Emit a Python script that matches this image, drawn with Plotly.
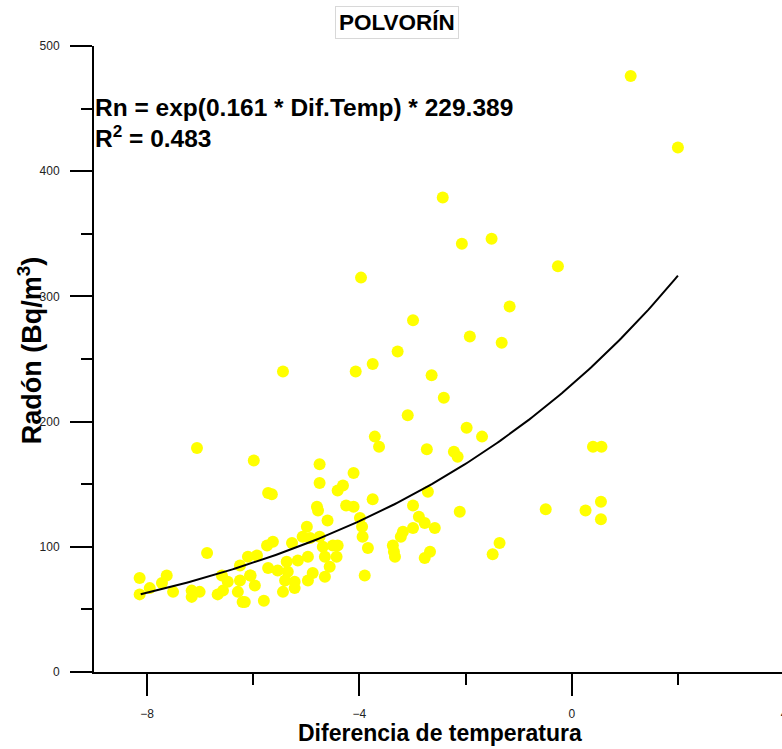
import numpy as np
import plotly.graph_objects as go

# ---- data ----
dif_temp = [
    1.11, 2.00, -0.26, -2.43, -2.07, -1.51, -3.97, -1.17, -2.99, -1.92,
    -1.32, -3.28, -3.75, -2.64, -2.41, -3.09, -1.98, -1.69, -3.71, -3.63,
    -2.73, -2.22, -2.15, -3.75, -2.71, -2.99, -2.11, -2.88, -2.77, -2.58,
    -2.99, -3.18, -3.22, -3.37, -3.33, -3.35, -2.67, -2.77, -1.36, -1.49,
    -3.84, 0.40, 0.56, -0.49, 0.26, 0.55, 0.55, -5.44, -4.07, -7.06,
    -5.99, -4.75, -4.11, -4.75, -4.31, -4.41, -5.72, -5.65, -4.80, -4.78,
    -4.25, -4.11, -4.60, -3.99, -3.95, -3.94, -4.99, -5.07, -4.93, -5.27,
    -4.75, -5.63, -5.74, -4.50, -4.41, -4.69, -4.65, -4.43, -4.56, -4.97,
    -5.16, -5.37, -6.10, -5.93, -5.72, -5.54, -5.35, -6.05, -5.40, -5.22,
    -4.97, -4.88, -4.65, -5.97, -5.44, -5.22, -6.16, -5.80, -3.90, -6.87,
    -8.14, -7.63, -7.72, -7.95, -8.14, -7.51, -7.16, -7.01, -7.16, -6.67,
    -6.57, -6.29, -6.20, -6.59, -6.48, -6.25, -6.25, -6.06,
]
radon = [
    476, 419, 324, 379, 342, 346, 315, 292, 281, 268,
    263, 256, 246, 237, 219, 205, 195, 188, 188, 180,
    178, 176, 172, 138, 144, 133, 128, 124, 119, 115,
    115, 112, 108, 101, 92, 96, 96, 91, 103, 94,
    99, 180, 180, 130, 129, 136, 122, 240, 240, 179,
    169, 166, 159, 151, 149, 145, 143, 142, 132, 129,
    133, 132, 121, 123, 116, 108, 116, 108, 107, 103,
    108, 104, 101, 101, 101, 100, 92, 92, 84, 92,
    89, 88, 92, 93, 83, 81, 80, 77, 73, 72,
    73, 79, 76, 69, 64, 67, 56, 57, 77, 95,
    75, 77, 71, 67, 62, 64, 65, 64, 60, 62,
    65, 64, 56, 77, 72, 73, 85, 77,
]

# fitted model shown on the chart: Rn = exp(b * Dif.Temp) * a
fit_b = 0.161
fit_a = 229.389
fit_x_min = -8.12
fit_x_max = 2.0

title_text = "POLVORÍN"
eq_text = "Rn = exp(0.161 * Dif.Temp) * 229.389"
r2_text = "R<sup>2</sup> = 0.483"
x_title = "Diferencia de temperatura"
y_title = "Radón (Bq/m<sup>3</sup>)"

x_ticks = [-8, -4, 0, 4]
y_ticks = [0, 100, 200, 300, 400, 500]

fx = np.linspace(fit_x_min, fit_x_max, 200)
fy = fit_a * np.exp(fit_b * fx)

FONT = "Liberation Sans, Arial, sans-serif"

fig = go.Figure()
fig.add_trace(go.Scatter(
    x=dif_temp, y=radon, mode="markers",
    marker=dict(color="#FFFF00", size=12, line=dict(width=0)),
    showlegend=False, hoverinfo="x+y",
))
fig.add_trace(go.Scatter(
    x=fx, y=fy, mode="lines",
    line=dict(color="black", width=2),
    showlegend=False, hoverinfo="skip",
))

axis_common = dict(
    showline=True, linecolor="black", linewidth=2,
    ticks="outside", ticklen=22, tickwidth=2, tickcolor="black",
    showgrid=False, zeroline=False,
    tickfont=dict(family=FONT, size=12, color="#222222"),
    ticklabelstandoff=8,
)

fig.update_layout(
    width=800, height=749,
    margin=dict(l=94, r=0, t=46, b=77),
    paper_bgcolor="white", plot_bgcolor="white",
    font=dict(family=FONT, color="black"),
    xaxis=dict(range=[-9.0, 4.3], tickvals=x_ticks,
               minor=dict(ticks="outside", ticklen=11, tickwidth=2,
                          tickcolor="black", dtick=2, tick0=0),
               **axis_common),
    yaxis=dict(range=[0, 500], tickvals=y_ticks,
               minor=dict(ticks="outside", ticklen=11, tickwidth=2,
                          tickcolor="black", dtick=50, tick0=0),
               **axis_common),
    annotations=[
        dict(text="<b>%s</b>" % title_text, xref="paper", yref="paper",
             x=0.429, y=1.0383, xanchor="center", yanchor="middle",
             showarrow=False, font=dict(family=FONT, size=22.5, color="black"),
             bordercolor="#d8d8d8", borderwidth=1, borderpad=3),
        dict(text="<b>%s</b>" % eq_text, xref="paper", yref="paper",
             x=-0.0016, y=0.901, xanchor="left", yanchor="middle",
             showarrow=False, font=dict(family=FONT, size=24.5, color="black")),
        dict(text="<b>%s</b>" % r2_text, xref="paper", yref="paper",
             x=-0.0016, y=0.856, xanchor="left", yanchor="middle",
             showarrow=False, font=dict(family=FONT, size=24.5, color="black")),
        dict(text="<b>%s</b>" % x_title, xref="paper", yref="paper",
             x=0.49, y=-0.0974, xanchor="center", yanchor="middle",
             showarrow=False, font=dict(family=FONT, size=23, color="black")),
        dict(text="<b>%s</b>" % y_title, xref="paper", yref="paper",
             x=-0.0906, y=0.514, xanchor="center", yanchor="middle",
             textangle=-90, showarrow=False,
             font=dict(family=FONT, size=27, color="black")),
    ],
)

fig.write_html(
    "out.html",
    config={"displayModeBar": False},
    post_script="document.body.style.margin='0';document.body.style.overflow='hidden';",
)
